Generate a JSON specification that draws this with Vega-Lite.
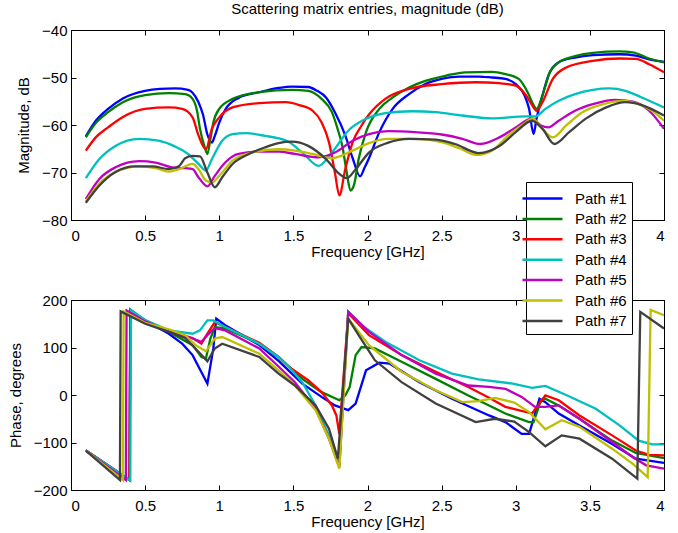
{
  "$schema": "https://vega.github.io/schema/vega-lite/v6.json",
  "padding": {"left": 7, "top": 1, "right": 5, "bottom": 2},
  "background": "white",
  "config": {
    "font": "Liberation Sans",
    "view": {"stroke": "black", "strokeWidth": 1},
    "axis": {"grid": false, "domain": false, "labelFont": "Liberation Sans", "titleFont": "Liberation Sans", "labelFontSize": 15, "titleFontSize": 15, "titleFontWeight": "normal", "labelColor": "black", "titleColor": "black", "tickColor": "black", "tickSize": -5, "tickWidth": 1},
    "axisX": {"labelPadding": 13, "titlePadding": 1},
    "axisY": {"labelPadding": 9, "titlePadding": 10},
    "title": {"font": "Liberation Sans", "fontSize": 15, "fontWeight": "normal", "color": "black", "offset": 6},
    "legend": {"orient": "none", "legendX": 455, "legendY": 152, "title": null, "titlePadding": 0, "strokeColor": "black", "fillColor": "white", "padding": 5, "cornerRadius": 0, "labelFont": "Liberation Sans", "labelFontSize": 15, "labelColor": "black", "symbolType": "M-2,0H2", "symbolSize": 400, "symbolStrokeWidth": 2.5, "rowPadding": 0.4, "labelOffset": 21, "labelLimit": 200}
  },
  "datasets": {
    "mag": [
      {"path":"Path #1","f":0.10,"v":-62.4},{"path":"Path #1","f":0.17,"v":-59.0},{"path":"Path #1","f":0.25,"v":-56.6},{"path":"Path #1","f":0.35,"v":-54.4},{"path":"Path #1","f":0.50,"v":-52.8},{"path":"Path #1","f":0.60,"v":-52.4},{"path":"Path #1","f":0.70,"v":-52.3},{"path":"Path #1","f":0.79,"v":-52.6},{"path":"Path #1","f":0.82,"v":-53.2},{"path":"Path #1","f":0.86,"v":-55.2},{"path":"Path #1","f":0.89,"v":-57.8},{"path":"Path #1","f":0.92,"v":-62.0},{"path":"Path #1","f":0.95,"v":-63.7},{"path":"Path #1","f":0.97,"v":-62.3},{"path":"Path #1","f":1.00,"v":-59.5},{"path":"Path #1","f":1.04,"v":-56.8},{"path":"Path #1","f":1.13,"v":-54.3},{"path":"Path #1","f":1.27,"v":-53.1},{"path":"Path #1","f":1.40,"v":-52.2},{"path":"Path #1","f":1.49,"v":-51.9},{"path":"Path #1","f":1.60,"v":-52.0},{"path":"Path #1","f":1.66,"v":-52.8},{"path":"Path #1","f":1.72,"v":-54.2},{"path":"Path #1","f":1.78,"v":-57.3},{"path":"Path #1","f":1.85,"v":-62.2},{"path":"Path #1","f":1.90,"v":-67.0},{"path":"Path #1","f":1.95,"v":-70.8},{"path":"Path #1","f":1.98,"v":-69.0},{"path":"Path #1","f":2.01,"v":-67.0},{"path":"Path #1","f":2.08,"v":-61.5},{"path":"Path #1","f":2.17,"v":-56.6},{"path":"Path #1","f":2.28,"v":-53.5},{"path":"Path #1","f":2.39,"v":-51.4},{"path":"Path #1","f":2.50,"v":-50.3},{"path":"Path #1","f":2.62,"v":-49.8},{"path":"Path #1","f":2.75,"v":-49.8},{"path":"Path #1","f":2.84,"v":-50.0},{"path":"Path #1","f":2.93,"v":-50.3},{"path":"Path #1","f":3.00,"v":-51.4},{"path":"Path #1","f":3.06,"v":-53.8},{"path":"Path #1","f":3.09,"v":-56.6},{"path":"Path #1","f":3.12,"v":-61.9},{"path":"Path #1","f":3.14,"v":-58.7},{"path":"Path #1","f":3.18,"v":-53.8},{"path":"Path #1","f":3.22,"v":-49.6},{"path":"Path #1","f":3.29,"v":-46.8},{"path":"Path #1","f":3.40,"v":-45.8},{"path":"Path #1","f":3.52,"v":-45.3},{"path":"Path #1","f":3.70,"v":-45.1},{"path":"Path #1","f":3.81,"v":-45.4},{"path":"Path #1","f":3.90,"v":-46.2},{"path":"Path #1","f":4.00,"v":-46.7},
      {"path":"Path #2","f":0.10,"v":-62.6},{"path":"Path #2","f":0.17,"v":-59.5},{"path":"Path #2","f":0.25,"v":-57.3},{"path":"Path #2","f":0.35,"v":-55.2},{"path":"Path #2","f":0.50,"v":-53.7},{"path":"Path #2","f":0.66,"v":-53.3},{"path":"Path #2","f":0.77,"v":-53.5},{"path":"Path #2","f":0.82,"v":-54.5},{"path":"Path #2","f":0.85,"v":-57.0},{"path":"Path #2","f":0.87,"v":-60.8},{"path":"Path #2","f":0.90,"v":-64.5},{"path":"Path #2","f":0.92,"v":-66.1},{"path":"Path #2","f":0.94,"v":-63.0},{"path":"Path #2","f":0.96,"v":-59.5},{"path":"Path #2","f":1.00,"v":-56.6},{"path":"Path #2","f":1.09,"v":-54.5},{"path":"Path #2","f":1.27,"v":-53.1},{"path":"Path #2","f":1.49,"v":-52.6},{"path":"Path #2","f":1.60,"v":-52.8},{"path":"Path #2","f":1.69,"v":-54.5},{"path":"Path #2","f":1.76,"v":-57.3},{"path":"Path #2","f":1.80,"v":-61.0},{"path":"Path #2","f":1.83,"v":-64.4},{"path":"Path #2","f":1.86,"v":-70.0},{"path":"Path #2","f":1.885,"v":-73.8},{"path":"Path #2","f":1.91,"v":-72.5},{"path":"Path #2","f":1.94,"v":-67.2},{"path":"Path #2","f":1.99,"v":-61.5},{"path":"Path #2","f":2.08,"v":-56.6},{"path":"Path #2","f":2.17,"v":-54.2},{"path":"Path #2","f":2.28,"v":-52.1},{"path":"Path #2","f":2.39,"v":-50.7},{"path":"Path #2","f":2.53,"v":-49.6},{"path":"Path #2","f":2.66,"v":-48.9},{"path":"Path #2","f":2.84,"v":-48.8},{"path":"Path #2","f":2.93,"v":-49.3},{"path":"Path #2","f":3.02,"v":-50.3},{"path":"Path #2","f":3.08,"v":-53.1},{"path":"Path #2","f":3.12,"v":-55.8},{"path":"Path #2","f":3.14,"v":-56.6},{"path":"Path #2","f":3.18,"v":-53.8},{"path":"Path #2","f":3.23,"v":-48.9},{"path":"Path #2","f":3.29,"v":-46.8},{"path":"Path #2","f":3.40,"v":-45.5},{"path":"Path #2","f":3.52,"v":-44.8},{"path":"Path #2","f":3.70,"v":-44.5},{"path":"Path #2","f":3.79,"v":-44.7},{"path":"Path #2","f":3.90,"v":-46.0},{"path":"Path #2","f":4.00,"v":-46.8},
      {"path":"Path #3","f":0.10,"v":-65.4},{"path":"Path #3","f":0.17,"v":-62.5},{"path":"Path #3","f":0.25,"v":-60.5},{"path":"Path #3","f":0.35,"v":-58.3},{"path":"Path #3","f":0.50,"v":-56.6},{"path":"Path #3","f":0.66,"v":-56.3},{"path":"Path #3","f":0.75,"v":-56.6},{"path":"Path #3","f":0.82,"v":-58.4},{"path":"Path #3","f":0.86,"v":-62.2},{"path":"Path #3","f":0.91,"v":-65.1},{"path":"Path #3","f":0.95,"v":-60.8},{"path":"Path #3","f":1.00,"v":-58.4},{"path":"Path #3","f":1.09,"v":-56.3},{"path":"Path #3","f":1.27,"v":-55.4},{"path":"Path #3","f":1.45,"v":-55.2},{"path":"Path #3","f":1.54,"v":-55.8},{"path":"Path #3","f":1.63,"v":-57.0},{"path":"Path #3","f":1.69,"v":-59.4},{"path":"Path #3","f":1.74,"v":-63.6},{"path":"Path #3","f":1.78,"v":-70.0},{"path":"Path #3","f":1.81,"v":-74.8},{"path":"Path #3","f":1.85,"v":-69.3},{"path":"Path #3","f":1.90,"v":-63.6},{"path":"Path #3","f":1.96,"v":-60.1},{"path":"Path #3","f":2.01,"v":-57.8},{"path":"Path #3","f":2.12,"v":-54.5},{"path":"Path #3","f":2.28,"v":-52.4},{"path":"Path #3","f":2.50,"v":-51.4},{"path":"Path #3","f":2.73,"v":-51.0},{"path":"Path #3","f":2.89,"v":-51.2},{"path":"Path #3","f":3.00,"v":-51.7},{"path":"Path #3","f":3.07,"v":-53.8},{"path":"Path #3","f":3.11,"v":-55.8},{"path":"Path #3","f":3.14,"v":-57.0},{"path":"Path #3","f":3.18,"v":-55.2},{"path":"Path #3","f":3.25,"v":-50.3},{"path":"Path #3","f":3.34,"v":-47.9},{"path":"Path #3","f":3.52,"v":-46.5},{"path":"Path #3","f":3.70,"v":-46.0},{"path":"Path #3","f":3.81,"v":-46.1},{"path":"Path #3","f":3.90,"v":-47.2},{"path":"Path #3","f":4.00,"v":-48.9},
      {"path":"Path #4","f":0.10,"v":-71.2},{"path":"Path #4","f":0.19,"v":-67.2},{"path":"Path #4","f":0.30,"v":-64.4},{"path":"Path #4","f":0.46,"v":-62.9},{"path":"Path #4","f":0.59,"v":-63.3},{"path":"Path #4","f":0.70,"v":-64.5},{"path":"Path #4","f":0.79,"v":-66.1},{"path":"Path #4","f":0.86,"v":-68.2},{"path":"Path #4","f":0.91,"v":-69.6},{"path":"Path #4","f":0.95,"v":-67.2},{"path":"Path #4","f":1.02,"v":-63.3},{"path":"Path #4","f":1.09,"v":-61.9},{"path":"Path #4","f":1.18,"v":-61.7},{"path":"Path #4","f":1.31,"v":-62.3},{"path":"Path #4","f":1.40,"v":-62.8},{"path":"Path #4","f":1.47,"v":-63.6},{"path":"Path #4","f":1.56,"v":-65.8},{"path":"Path #4","f":1.67,"v":-68.6},{"path":"Path #4","f":1.76,"v":-65.8},{"path":"Path #4","f":1.87,"v":-61.2},{"path":"Path #4","f":1.99,"v":-58.7},{"path":"Path #4","f":2.12,"v":-57.5},{"path":"Path #4","f":2.30,"v":-57.1},{"path":"Path #4","f":2.46,"v":-57.3},{"path":"Path #4","f":2.64,"v":-58.0},{"path":"Path #4","f":2.84,"v":-58.6},{"path":"Path #4","f":3.07,"v":-58.2},{"path":"Path #4","f":3.13,"v":-58.2},{"path":"Path #4","f":3.20,"v":-56.6},{"path":"Path #4","f":3.29,"v":-54.9},{"path":"Path #4","f":3.40,"v":-53.5},{"path":"Path #4","f":3.52,"v":-52.6},{"path":"Path #4","f":3.63,"v":-52.3},{"path":"Path #4","f":3.74,"v":-52.8},{"path":"Path #4","f":3.85,"v":-54.2},{"path":"Path #4","f":4.00,"v":-56.3},
      {"path":"Path #5","f":0.10,"v":-75.6},{"path":"Path #5","f":0.19,"v":-71.4},{"path":"Path #5","f":0.30,"v":-68.9},{"path":"Path #5","f":0.46,"v":-67.6},{"path":"Path #5","f":0.57,"v":-67.9},{"path":"Path #5","f":0.68,"v":-68.9},{"path":"Path #5","f":0.77,"v":-69.1},{"path":"Path #5","f":0.82,"v":-69.3},{"path":"Path #5","f":0.86,"v":-71.0},{"path":"Path #5","f":0.92,"v":-72.9},{"path":"Path #5","f":0.97,"v":-70.7},{"path":"Path #5","f":1.04,"v":-67.9},{"path":"Path #5","f":1.13,"v":-66.1},{"path":"Path #5","f":1.27,"v":-65.6},{"path":"Path #5","f":1.40,"v":-65.6},{"path":"Path #5","f":1.51,"v":-66.1},{"path":"Path #5","f":1.67,"v":-66.8},{"path":"Path #5","f":1.78,"v":-65.8},{"path":"Path #5","f":1.90,"v":-63.3},{"path":"Path #5","f":2.01,"v":-61.9},{"path":"Path #5","f":2.14,"v":-61.3},{"path":"Path #5","f":2.32,"v":-61.5},{"path":"Path #5","f":2.50,"v":-62.0},{"path":"Path #5","f":2.64,"v":-62.9},{"path":"Path #5","f":2.76,"v":-64.0},{"path":"Path #5","f":2.89,"v":-62.6},{"path":"Path #5","f":3.00,"v":-60.5},{"path":"Path #5","f":3.11,"v":-58.6},{"path":"Path #5","f":3.17,"v":-60.1},{"path":"Path #5","f":3.22,"v":-60.5},{"path":"Path #5","f":3.29,"v":-59.1},{"path":"Path #5","f":3.40,"v":-57.0},{"path":"Path #5","f":3.52,"v":-55.6},{"path":"Path #5","f":3.67,"v":-54.7},{"path":"Path #5","f":3.79,"v":-55.1},{"path":"Path #5","f":3.90,"v":-57.0},{"path":"Path #5","f":4.00,"v":-60.8},
      {"path":"Path #6","f":0.10,"v":-76.1},{"path":"Path #6","f":0.19,"v":-72.4},{"path":"Path #6","f":0.30,"v":-69.9},{"path":"Path #6","f":0.46,"v":-68.7},{"path":"Path #6","f":0.57,"v":-69.1},{"path":"Path #6","f":0.66,"v":-69.8},{"path":"Path #6","f":0.73,"v":-69.3},{"path":"Path #6","f":0.82,"v":-68.2},{"path":"Path #6","f":0.86,"v":-69.3},{"path":"Path #6","f":0.91,"v":-71.7},{"path":"Path #6","f":0.95,"v":-72.1},{"path":"Path #6","f":1.00,"v":-70.7},{"path":"Path #6","f":1.09,"v":-67.5},{"path":"Path #6","f":1.22,"v":-65.8},{"path":"Path #6","f":1.40,"v":-65.1},{"path":"Path #6","f":1.51,"v":-65.4},{"path":"Path #6","f":1.63,"v":-66.1},{"path":"Path #6","f":1.76,"v":-67.0},{"path":"Path #6","f":1.90,"v":-65.4},{"path":"Path #6","f":2.01,"v":-63.8},{"path":"Path #6","f":2.14,"v":-62.9},{"path":"Path #6","f":2.32,"v":-62.9},{"path":"Path #6","f":2.50,"v":-63.6},{"path":"Path #6","f":2.62,"v":-64.9},{"path":"Path #6","f":2.73,"v":-66.3},{"path":"Path #6","f":2.84,"v":-65.4},{"path":"Path #6","f":2.95,"v":-62.2},{"path":"Path #6","f":3.07,"v":-59.4},{"path":"Path #6","f":3.11,"v":-58.6},{"path":"Path #6","f":3.18,"v":-60.8},{"path":"Path #6","f":3.25,"v":-62.6},{"path":"Path #6","f":3.34,"v":-60.1},{"path":"Path #6","f":3.45,"v":-57.3},{"path":"Path #6","f":3.59,"v":-55.6},{"path":"Path #6","f":3.72,"v":-54.9},{"path":"Path #6","f":3.83,"v":-55.6},{"path":"Path #6","f":3.92,"v":-57.0},{"path":"Path #6","f":4.00,"v":-59.1},
      {"path":"Path #7","f":0.10,"v":-76.4},{"path":"Path #7","f":0.19,"v":-72.8},{"path":"Path #7","f":0.30,"v":-69.9},{"path":"Path #7","f":0.43,"v":-68.7},{"path":"Path #7","f":0.55,"v":-68.7},{"path":"Path #7","f":0.66,"v":-69.3},{"path":"Path #7","f":0.73,"v":-68.6},{"path":"Path #7","f":0.77,"v":-67.0},{"path":"Path #7","f":0.82,"v":-66.5},{"path":"Path #7","f":0.87,"v":-66.6},{"path":"Path #7","f":0.92,"v":-70.0},{"path":"Path #7","f":0.97,"v":-73.1},{"path":"Path #7","f":1.02,"v":-71.0},{"path":"Path #7","f":1.09,"v":-68.2},{"path":"Path #7","f":1.20,"v":-66.1},{"path":"Path #7","f":1.31,"v":-64.7},{"path":"Path #7","f":1.40,"v":-63.8},{"path":"Path #7","f":1.49,"v":-63.5},{"path":"Path #7","f":1.60,"v":-64.4},{"path":"Path #7","f":1.72,"v":-67.2},{"path":"Path #7","f":1.81,"v":-70.3},{"path":"Path #7","f":1.86,"v":-71.2},{"path":"Path #7","f":1.92,"v":-69.3},{"path":"Path #7","f":2.01,"v":-65.8},{"path":"Path #7","f":2.14,"v":-63.7},{"path":"Path #7","f":2.28,"v":-62.9},{"path":"Path #7","f":2.46,"v":-63.1},{"path":"Path #7","f":2.59,"v":-64.0},{"path":"Path #7","f":2.75,"v":-65.9},{"path":"Path #7","f":2.89,"v":-64.4},{"path":"Path #7","f":3.00,"v":-61.5},{"path":"Path #7","f":3.11,"v":-59.1},{"path":"Path #7","f":3.18,"v":-60.8},{"path":"Path #7","f":3.26,"v":-64.0},{"path":"Path #7","f":3.36,"v":-61.5},{"path":"Path #7","f":3.47,"v":-58.7},{"path":"Path #7","f":3.61,"v":-56.3},{"path":"Path #7","f":3.74,"v":-55.2},{"path":"Path #7","f":3.85,"v":-55.8},{"path":"Path #7","f":4.00,"v":-58.0}
    ],
    "phase": [
      {"path":"Path #1","f":0.10,"v":-117},{"path":"Path #1","f":0.395,"v":-179},{"path":"Path #1","f":0.40,"v":177},{"path":"Path #1","f":0.50,"v":157},{"path":"Path #1","f":0.66,"v":129},{"path":"Path #1","f":0.75,"v":108},{"path":"Path #1","f":0.82,"v":84},{"path":"Path #1","f":0.88,"v":48},{"path":"Path #1","f":0.92,"v":24},{"path":"Path #1","f":0.96,"v":98},{"path":"Path #1","f":0.98,"v":161},{"path":"Path #1","f":1.04,"v":147},{"path":"Path #1","f":1.27,"v":105},{"path":"Path #1","f":1.40,"v":72},{"path":"Path #1","f":1.56,"v":24},{"path":"Path #1","f":1.69,"v":-4},{"path":"Path #1","f":1.78,"v":-22},{"path":"Path #1","f":1.87,"v":-32},{"path":"Path #1","f":1.92,"v":-18},{"path":"Path #1","f":1.99,"v":52},{"path":"Path #1","f":2.08,"v":68},{"path":"Path #1","f":2.15,"v":66},{"path":"Path #1","f":2.35,"v":27},{"path":"Path #1","f":2.57,"v":-8},{"path":"Path #1","f":2.82,"v":-43},{"path":"Path #1","f":2.93,"v":-57},{"path":"Path #1","f":3.04,"v":-82},{"path":"Path #1","f":3.09,"v":-82},{"path":"Path #1","f":3.16,"v":-8},{"path":"Path #1","f":3.20,"v":-15},{"path":"Path #1","f":3.29,"v":-39},{"path":"Path #1","f":3.43,"v":-64},{"path":"Path #1","f":3.65,"v":-103},{"path":"Path #1","f":3.81,"v":-134},{"path":"Path #1","f":4.00,"v":-143},
      {"path":"Path #2","f":0.10,"v":-117},{"path":"Path #2","f":0.395,"v":-179},{"path":"Path #2","f":0.40,"v":180},{"path":"Path #2","f":0.50,"v":157},{"path":"Path #2","f":0.66,"v":133},{"path":"Path #2","f":0.82,"v":105},{"path":"Path #2","f":0.88,"v":80},{"path":"Path #2","f":0.91,"v":77},{"path":"Path #2","f":0.94,"v":119},{"path":"Path #2","f":0.97,"v":143},{"path":"Path #2","f":1.04,"v":140},{"path":"Path #2","f":1.27,"v":108},{"path":"Path #2","f":1.40,"v":80},{"path":"Path #2","f":1.56,"v":34},{"path":"Path #2","f":1.69,"v":6},{"path":"Path #2","f":1.81,"v":-11},{"path":"Path #2","f":1.85,"v":-1},{"path":"Path #2","f":1.88,"v":17},{"path":"Path #2","f":1.92,"v":84},{"path":"Path #2","f":1.96,"v":101},{"path":"Path #2","f":2.05,"v":98},{"path":"Path #2","f":2.23,"v":70},{"path":"Path #2","f":2.46,"v":34},{"path":"Path #2","f":2.68,"v":-1},{"path":"Path #2","f":2.82,"v":-22},{"path":"Path #2","f":2.93,"v":-39},{"path":"Path #2","f":3.09,"v":-57},{"path":"Path #2","f":3.12,"v":-57},{"path":"Path #2","f":3.17,"v":-11},{"path":"Path #2","f":3.20,"v":-8},{"path":"Path #2","f":3.29,"v":-22},{"path":"Path #2","f":3.43,"v":-50},{"path":"Path #2","f":3.65,"v":-96},{"path":"Path #2","f":3.81,"v":-122},{"path":"Path #2","f":4.00,"v":-133},
      {"path":"Path #3","f":0.10,"v":-117},{"path":"Path #3","f":0.395,"v":-179},{"path":"Path #3","f":0.40,"v":178},{"path":"Path #3","f":0.50,"v":157},{"path":"Path #3","f":0.66,"v":134},{"path":"Path #3","f":0.82,"v":120},{"path":"Path #3","f":0.88,"v":108},{"path":"Path #3","f":0.92,"v":129},{"path":"Path #3","f":0.97,"v":153},{"path":"Path #3","f":1.04,"v":143},{"path":"Path #3","f":1.27,"v":110},{"path":"Path #3","f":1.40,"v":80},{"path":"Path #3","f":1.47,"v":59},{"path":"Path #3","f":1.60,"v":31},{"path":"Path #3","f":1.69,"v":6},{"path":"Path #3","f":1.76,"v":-22},{"path":"Path #3","f":1.79,"v":-43},{"path":"Path #3","f":1.81,"v":-82},{"path":"Path #3","f":1.87,"v":172},{"path":"Path #3","f":2.01,"v":126},{"path":"Path #3","f":2.23,"v":84},{"path":"Path #3","f":2.46,"v":49},{"path":"Path #3","f":2.68,"v":17},{"path":"Path #3","f":2.82,"v":-6},{"path":"Path #3","f":2.93,"v":-25},{"path":"Path #3","f":3.11,"v":-39},{"path":"Path #3","f":3.20,"v":-1},{"path":"Path #3","f":3.29,"v":-11},{"path":"Path #3","f":3.43,"v":-43},{"path":"Path #3","f":3.65,"v":-85},{"path":"Path #3","f":3.81,"v":-117},{"path":"Path #3","f":3.90,"v":-126},{"path":"Path #3","f":4.00,"v":-127},
      {"path":"Path #4","f":0.10,"v":-117},{"path":"Path #4","f":0.40,"v":-180},{"path":"Path #4","f":0.405,"v":178},{"path":"Path #4","f":0.50,"v":158},{"path":"Path #4","f":0.66,"v":136},{"path":"Path #4","f":0.82,"v":129},{"path":"Path #4","f":0.87,"v":136},{"path":"Path #4","f":0.92,"v":157},{"path":"Path #4","f":0.96,"v":157},{"path":"Path #4","f":1.04,"v":143},{"path":"Path #4","f":1.27,"v":108},{"path":"Path #4","f":1.40,"v":80},{"path":"Path #4","f":1.47,"v":59},{"path":"Path #4","f":1.56,"v":27},{"path":"Path #4","f":1.65,"v":-22},{"path":"Path #4","f":1.74,"v":-85},{"path":"Path #4","f":1.81,"v":-148},{"path":"Path #4","f":1.87,"v":176},{"path":"Path #4","f":1.96,"v":147},{"path":"Path #4","f":2.12,"v":112},{"path":"Path #4","f":2.35,"v":73},{"path":"Path #4","f":2.57,"v":45},{"path":"Path #4","f":2.75,"v":33},{"path":"Path #4","f":2.98,"v":24},{"path":"Path #4","f":3.11,"v":15},{"path":"Path #4","f":3.20,"v":19},{"path":"Path #4","f":3.34,"v":0},{"path":"Path #4","f":3.54,"v":-29},{"path":"Path #4","f":3.70,"v":-64},{"path":"Path #4","f":3.83,"v":-96},{"path":"Path #4","f":3.92,"v":-104},{"path":"Path #4","f":4.00,"v":-104},
      {"path":"Path #5","f":0.10,"v":-117},{"path":"Path #5","f":0.37,"v":-179},{"path":"Path #5","f":0.375,"v":178},{"path":"Path #5","f":0.50,"v":155},{"path":"Path #5","f":0.66,"v":134},{"path":"Path #5","f":0.82,"v":119},{"path":"Path #5","f":0.88,"v":112},{"path":"Path #5","f":0.92,"v":126},{"path":"Path #5","f":0.97,"v":141},{"path":"Path #5","f":1.04,"v":136},{"path":"Path #5","f":1.27,"v":98},{"path":"Path #5","f":1.40,"v":60},{"path":"Path #5","f":1.51,"v":27},{"path":"Path #5","f":1.65,"v":-29},{"path":"Path #5","f":1.74,"v":-92},{"path":"Path #5","f":1.81,"v":-152},{"path":"Path #5","f":1.87,"v":175},{"path":"Path #5","f":2.01,"v":133},{"path":"Path #5","f":2.23,"v":84},{"path":"Path #5","f":2.46,"v":45},{"path":"Path #5","f":2.68,"v":20},{"path":"Path #5","f":2.82,"v":17},{"path":"Path #5","f":2.93,"v":13},{"path":"Path #5","f":3.04,"v":-4},{"path":"Path #5","f":3.13,"v":-25},{"path":"Path #5","f":3.20,"v":-25},{"path":"Path #5","f":3.29,"v":-22},{"path":"Path #5","f":3.43,"v":-50},{"path":"Path #5","f":3.65,"v":-99},{"path":"Path #5","f":3.79,"v":-131},{"path":"Path #5","f":3.88,"v":-148},{"path":"Path #5","f":4.00,"v":-155},
      {"path":"Path #6","f":0.10,"v":-117},{"path":"Path #6","f":0.35,"v":-179},{"path":"Path #6","f":0.355,"v":176},{"path":"Path #6","f":0.50,"v":152},{"path":"Path #6","f":0.66,"v":138},{"path":"Path #6","f":0.77,"v":126},{"path":"Path #6","f":0.84,"v":105},{"path":"Path #6","f":0.91,"v":92},{"path":"Path #6","f":0.97,"v":119},{"path":"Path #6","f":1.02,"v":122},{"path":"Path #6","f":1.27,"v":87},{"path":"Path #6","f":1.40,"v":52},{"path":"Path #6","f":1.51,"v":20},{"path":"Path #6","f":1.65,"v":-32},{"path":"Path #6","f":1.74,"v":-92},{"path":"Path #6","f":1.81,"v":-155},{"path":"Path #6","f":1.87,"v":161},{"path":"Path #6","f":2.01,"v":105},{"path":"Path #6","f":2.23,"v":49},{"path":"Path #6","f":2.46,"v":10},{"path":"Path #6","f":2.64,"v":-15},{"path":"Path #6","f":2.75,"v":-13},{"path":"Path #6","f":2.86,"v":-6},{"path":"Path #6","f":2.99,"v":-16},{"path":"Path #6","f":3.09,"v":-36},{"path":"Path #6","f":3.20,"v":-72},{"path":"Path #6","f":3.31,"v":-53},{"path":"Path #6","f":3.43,"v":-67},{"path":"Path #6","f":3.65,"v":-113},{"path":"Path #6","f":3.79,"v":-145},{"path":"Path #6","f":3.89,"v":-173},{"path":"Path #6","f":3.91,"v":179},{"path":"Path #6","f":4.00,"v":168},
      {"path":"Path #7","f":0.10,"v":-117},{"path":"Path #7","f":0.33,"v":-179},{"path":"Path #7","f":0.335,"v":176},{"path":"Path #7","f":0.50,"v":150},{"path":"Path #7","f":0.66,"v":133},{"path":"Path #7","f":0.77,"v":120},{"path":"Path #7","f":0.86,"v":91},{"path":"Path #7","f":0.92,"v":71},{"path":"Path #7","f":0.97,"v":98},{"path":"Path #7","f":1.02,"v":108},{"path":"Path #7","f":1.27,"v":80},{"path":"Path #7","f":1.40,"v":45},{"path":"Path #7","f":1.51,"v":20},{"path":"Path #7","f":1.65,"v":-22},{"path":"Path #7","f":1.74,"v":-71},{"path":"Path #7","f":1.80,"v":-134},{"path":"Path #7","f":1.87,"v":161},{"path":"Path #7","f":1.94,"v":126},{"path":"Path #7","f":2.05,"v":73},{"path":"Path #7","f":2.23,"v":27},{"path":"Path #7","f":2.46,"v":-18},{"path":"Path #7","f":2.73,"v":-57},{"path":"Path #7","f":2.86,"v":-50},{"path":"Path #7","f":2.99,"v":-56},{"path":"Path #7","f":3.09,"v":-78},{"path":"Path #7","f":3.20,"v":-108},{"path":"Path #7","f":3.31,"v":-85},{"path":"Path #7","f":3.43,"v":-92},{"path":"Path #7","f":3.65,"v":-134},{"path":"Path #7","f":3.82,"v":-176},{"path":"Path #7","f":3.84,"v":175},{"path":"Path #7","f":4.00,"v":140}
    ]
  },
  "spacing": 32,
  "vconcat": [
    {
      "width": 593, "height": 190,
      "title": {"text": "Scattering matrix entries, magnitude (dB)"},
      "data": {"name": "mag"},
      "resolve": {"scale": {"x": "independent", "y": "independent"}},
      "layer": [
        {
          "mark": {"type": "line", "strokeWidth": 2.3, "clip": true, "interpolate": "monotone"},
          "encoding": {
            "x": {"field": "f", "type": "quantitative", "scale": {"domain": [0, 4], "nice": false}, "axis": {"orient": "bottom", "title": "Frequency [GHz]", "values": [0, 0.5, 1, 1.5, 2, 2.5, 3, 3.5, 4], "format": "~g"}},
            "y": {"field": "v", "type": "quantitative", "scale": {"domain": [-80, -40], "nice": false}, "axis": {"orient": "left", "title": "Magnitude, dB", "values": [-80, -70, -60, -50, -40]}},
            "color": {"field": "path", "type": "nominal", "scale": {"domain": ["Path #1", "Path #2", "Path #3", "Path #4", "Path #5", "Path #6", "Path #7"], "range": ["#0000ff", "#008000", "#ff0000", "#00bfbf", "#bf00bf", "#bfbf00", "#404040"]}}
          }
        },
        {
          "mark": {"type": "point", "opacity": 0},
          "encoding": {
            "x": {"field": "f", "type": "quantitative", "scale": {"domain": [0, 4], "nice": false}, "axis": {"orient": "top", "title": null, "labels": false, "values": [0, 0.5, 1, 1.5, 2, 2.5, 3, 3.5, 4]}},
            "y": {"field": "v", "type": "quantitative", "scale": {"domain": [-80, -40], "nice": false}, "axis": {"orient": "right", "title": null, "labels": false, "values": [-80, -70, -60, -50, -40]}}
          }
        }
      ]
    },
    {
      "width": 593, "height": 190,
      "data": {"name": "phase"},
      "resolve": {"scale": {"x": "independent", "y": "independent"}},
      "layer": [
        {
          "mark": {"type": "line", "strokeWidth": 2.3, "clip": true},
          "encoding": {
            "x": {"field": "f", "type": "quantitative", "scale": {"domain": [0, 4], "nice": false}, "axis": {"orient": "bottom", "title": "Frequency [GHz]", "values": [0, 0.5, 1, 1.5, 2, 2.5, 3, 3.5, 4], "format": "~g"}},
            "y": {"field": "v", "type": "quantitative", "scale": {"domain": [-200, 200], "nice": false}, "axis": {"orient": "left", "title": "Phase, degrees", "values": [-200, -100, 0, 100, 200]}},
            "color": {"field": "path", "type": "nominal", "scale": {"domain": ["Path #1", "Path #2", "Path #3", "Path #4", "Path #5", "Path #6", "Path #7"], "range": ["#0000ff", "#008000", "#ff0000", "#00bfbf", "#bf00bf", "#bfbf00", "#404040"]}}
          }
        },
        {
          "mark": {"type": "point", "opacity": 0},
          "encoding": {
            "x": {"field": "f", "type": "quantitative", "scale": {"domain": [0, 4], "nice": false}, "axis": {"orient": "top", "title": null, "labels": false, "values": [0, 0.5, 1, 1.5, 2, 2.5, 3, 3.5, 4]}},
            "y": {"field": "v", "type": "quantitative", "scale": {"domain": [-200, 200], "nice": false}, "axis": {"orient": "right", "title": null, "labels": false, "values": [-200, -100, 0, 100, 200]}}
          }
        }
      ]
    }
  ]
}
